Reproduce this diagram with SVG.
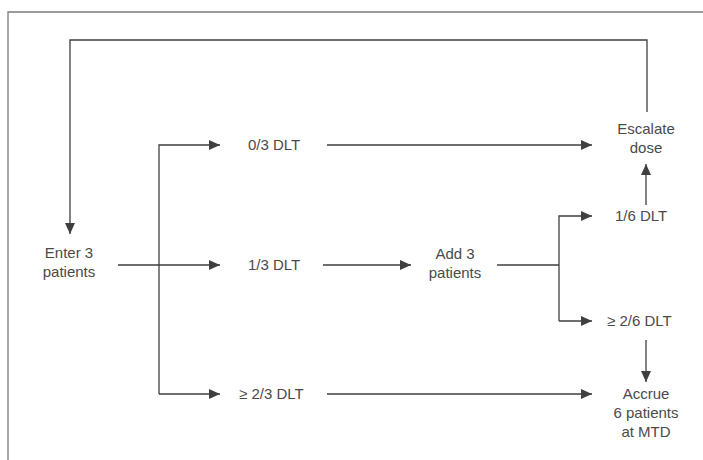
<svg xmlns="http://www.w3.org/2000/svg" width="703" height="460" viewBox="0 0 703 460">
<style>
.t{font-family:"Liberation Sans",Arial,sans-serif;font-size:15px;fill:#4a4a4a}
.m{text-anchor:middle}
.ln{fill:none;stroke:#3f3f3f;stroke-width:1.3}
.fr{fill:none;stroke:#7a7a7a;stroke-width:1.3}
</style>
<defs>
<marker id="ah" markerUnits="userSpaceOnUse" markerWidth="12" markerHeight="10" refX="11" refY="5" orient="auto">
<path d="M0,0 L11,5 L0,10 Z" fill="#3f3f3f"/>
</marker>
</defs>
<rect width="703" height="460" fill="#fff"/>
<path class="fr" d="M8,460 L8,12 L703,12"/>
<g id="connectors">
<path class="ln" d="M647,112 L647,40 L70,40 L70,234" marker-end="url(#ah)"/>
<path class="ln" d="M118,265 L220,265" marker-end="url(#ah)"/>
<path class="ln" d="M159,394 L159,145 L220,145" marker-end="url(#ah)"/>
<path class="ln" d="M159,394 L220,394" marker-end="url(#ah)"/>
<path class="ln" d="M327,145 L592,145" marker-end="url(#ah)"/>
<path class="ln" d="M323,265 L411,265" marker-end="url(#ah)"/>
<path class="ln" d="M327,394 L592,394" marker-end="url(#ah)"/>
<path class="ln" d="M497,265 L559,265"/>
<path class="ln" d="M559,321 L559,216 L592,216" marker-end="url(#ah)"/>
<path class="ln" d="M559,321 L592,321" marker-end="url(#ah)"/>
<path class="ln" d="M646,205 L646,164" marker-end="url(#ah)"/>
<path class="ln" d="M646,340 L646,382" marker-end="url(#ah)"/>
</g>
<g id="enter"><text class="t m" x="69" y="258">Enter 3</text><text class="t m" x="69" y="277">patients</text></g>
<g id="d03"><text class="t" x="248" y="150">0/3 DLT</text></g>
<g id="d13"><text class="t" x="248" y="270">1/3 DLT</text></g>
<g id="d23"><text class="t" x="239" y="399">≥ 2/3 DLT</text></g>
<g id="add"><text class="t m" x="455" y="259">Add 3</text><text class="t m" x="455" y="278">patients</text></g>
<g id="esc"><text class="t m" x="646" y="134">Escalate</text><text class="t m" x="646" y="153">dose</text></g>
<g id="d16"><text class="t" x="615" y="221">1/6 DLT</text></g>
<g id="d26"><text class="t" x="607" y="326">≥ 2/6 DLT</text></g>
<g id="accrue"><text class="t m" x="646" y="399">Accrue</text><text class="t m" x="646" y="418">6 patients</text><text class="t m" x="646" y="437">at MTD</text></g>
</svg>
